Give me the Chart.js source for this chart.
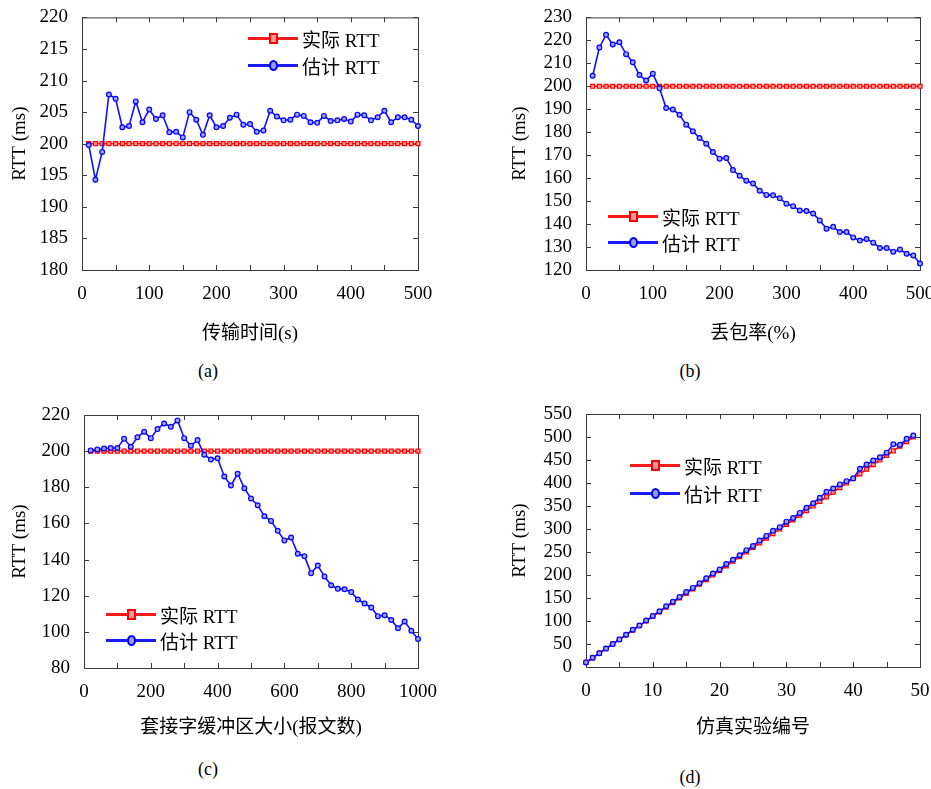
<!DOCTYPE html>
<html>
<head>
<meta charset="utf-8">
<script src="https://cdn.jsdelivr.net/npm/chart.js@4.4.1/dist/chart.umd.min.js"></script>
<style>
  html, body { margin: 0; padding: 0; background: #fff; }
  body {
    width: 931px; height: 789px; position: relative; overflow: hidden;
    font-family: "Liberation Serif", "Noto Sans CJK SC", serif; color: #000;
  }
  canvas { position: absolute; }
  .cap { position: absolute; font-size: 18px; transform: translate(-50%, -50%); }
  .row { position: absolute; height: 20px; display: flex; align-items: center; font-size: 19px; white-space: nowrap; }
  .smp { position: relative; width: 50px; height: 20px; margin-right: 4px; }
  .smp .ln { position: absolute; left: 0; right: 0; top: 8.5px; height: 3px; }
  .smp .mk { position: absolute; left: 21px; top: 5px; width: 5px; height: 7px; border: 2px solid; }
  .red .ln { background: #ff1a1a; }
  .red .mk { border-color: #ff0000; background: #ff9a9a; }
  .blue .ln { background: #1a1aff; }
  .blue .mk { border-color: #0000ff; background: #9a9aff; border-radius: 50%; }
</style>
</head>
<body>
<canvas id="ca"></canvas>
<canvas id="cb"></canvas>
<canvas id="cc"></canvas>
<canvas id="cd"></canvas>

<div class="cap" style="left:208px; top:371px;">(a)</div>
<div class="cap" style="left:690px; top:371px;">(b)</div>
<div class="cap" style="left:208px; top:769px;">(c)</div>
<div class="cap" style="left:690px; top:777px;">(d)</div>

<script>
// legend / series names
const nameActual = '实际 RTT';
const nameEst = '估计 RTT';
const yTitle = 'RTT (ms)';

// (a) 传输时间
const xA = [10,20,30,40,50,60,70,80,90,100,110,120,130,140,150,160,170,180,190,200,210,220,230,240,250,260,270,280,290,300,310,320,330,340,350,360,370,380,390,400,410,420,430,440,450,460,470,480,490,500];
const actualA = [200,200,200,200,200,200,200,200,200,200,200,200,200,200,200,200,200,200,200,200,200,200,200,200,200,200,200,200,200,200,200,200,200,200,200,200,200,200,200,200,200,200,200,200,200,200,200,200,200,200];
const estA = [199.8,194.3,198.7,207.8,207.1,202.6,202.8,206.7,203.4,205.4,203.9,204.5,201.8,201.9,201.0,205.0,203.8,201.4,204.5,202.6,202.8,204.1,204.6,203.0,203.1,201.9,202.1,205.2,204.3,203.7,203.8,204.6,204.4,203.4,203.3,204.4,203.6,203.7,203.9,203.5,204.6,204.5,203.7,204.2,205.2,203.4,204.2,204.2,203.8,202.8];

// (b) 丢包率
const xB = [10,20,30,40,50,60,70,80,90,100,110,120,130,140,150,160,170,180,190,200,210,220,230,240,250,260,270,280,290,300,310,320,330,340,350,360,370,380,390,400,410,420,430,440,450,460,470,480,490,500];
const actualB = [200,200,200,200,200,200,200,200,200,200,200,200,200,200,200,200,200,200,200,200,200,200,200,200,200,200,200,200,200,200,200,200,200,200,200,200,200,200,200,200,200,200,200,200,200,200,200,200,200,200];
const estB = [204.6,216.9,222.4,218.2,219.2,214.0,210.5,204.9,202.5,205.5,199.1,190.5,189.9,187.6,183.3,180.4,177.5,175.0,171.4,168.5,168.8,163.5,161.0,158.9,157.7,154.5,152.7,152.5,151.2,148.9,147.8,145.9,145.7,144.6,141.6,138.0,138.8,136.5,136.5,134.2,132.8,133.5,131.9,129.6,129.6,128.0,128.9,127.1,126.3,122.8];

// (c) 套接字缓冲区大小
const xC = [20,40,60,80,100,120,140,160,180,200,220,240,260,280,300,320,340,360,380,400,420,440,460,480,500,520,540,560,580,600,620,640,660,680,700,720,740,760,780,800,820,840,860,880,900,920,940,960,980,1000];
const actualC = [200,200,200,200,200,200,200,200,200,200,200,200,200,200,200,200,200,200,200,200,200,200,200,200,200,200,200,200,200,200,200,200,200,200,200,200,200,200,200,200,200,200,200,200,200,200,200,200,200,200];
const estC = [200.4,200.9,201.5,201.7,201.7,206.8,202.4,207.7,210.7,207.2,212.2,215.3,213.5,217.0,207.2,203.0,206.1,198.0,195.4,196.1,186.0,181.0,187.5,179.5,173.8,170.1,164.0,161.4,155.9,150.6,152.2,143.2,141.9,132.5,136.7,130.6,125.8,123.8,123.6,122.0,117.9,115.7,113.5,108.7,109.2,106.6,102.0,105.7,100.6,96.1];

// (d) 仿真实验编号
const xD = [0,1,2,3,4,5,6,7,8,9,10,11,12,13,14,15,16,17,18,19,20,21,22,23,24,25,26,27,28,29,30,31,32,33,34,35,36,37,38,39,40,41,42,43,44,45,46,47,48,49];
const actualD = [10,20,30,40,50,60,70,80,90,100,110,120,130,140,150,160,170,180,190,200,210,220,230,240,250,260,270,280,290,300,310,320,330,340,350,360,370,380,390,400,410,420,430,440,450,460,470,480,490,500];
const estD = [10,20,30,40,50,60,70,81,90,101,111,121,132,142,152,163,172,182,193,203,212,224,233,243,254,263,275,285,296,304,316,324,335,346,356,368,381,388,397,404,410,431,440,449,456,466,484,483,496,503];

const tickFont = { family: '"Liberation Serif", "Times New Roman", serif', size: 19 };
const titleFont = { family: '"Liberation Serif", "Noto Sans CJK SC", serif', size: 19 };

// MATLAB-style box with inward ticks on all four sides
const boxTicks = {
  id: 'boxTicks',
  beforeDatasetsDraw(chart) {
    const { ctx, chartArea: a, scales: { x, y } } = chart;
    ctx.save();
    ctx.strokeStyle = '#3a3a3a';
    ctx.lineWidth = 1;
    ctx.strokeRect(a.left + 0.5, a.top + 0.5, a.right - a.left, a.bottom - a.top);
    ctx.beginPath();
    x.ticks.forEach(t => {
      const px = Math.round(x.getPixelForValue(t.value)) + 0.5;
      ctx.moveTo(px, a.bottom); ctx.lineTo(px, a.bottom - 5);
      ctx.moveTo(px, a.top); ctx.lineTo(px, a.top + 5);
    });
    y.ticks.forEach(t => {
      const py = Math.round(y.getPixelForValue(t.value)) + 0.5;
      ctx.moveTo(a.left, py); ctx.lineTo(a.left + 5, py);
      ctx.moveTo(a.right, py); ctx.lineTo(a.right - 5, py);
    });
    ctx.stroke();
    ctx.restore();
  }
};

function makePanel(id, p) {
  const cv = document.getElementById(id);
  cv.width = p.W; cv.height = p.H;
  cv.style.left = p.X + 'px'; cv.style.top = p.Y + 'px';
  cv.style.width = p.W + 'px'; cv.style.height = p.H + 'px';

  const pts = (xs, ys) => xs.map((v, i) => ({ x: v, y: ys[i] }));

  new Chart(cv, {
    type: 'line',
    data: {
      datasets: [
        {
          label: nameEst,
          data: pts(p.xs, p.est),
          borderColor: '#1010ff',
          borderWidth: 1.6,
          pointStyle: 'circle',
          pointRadius: 2.4,
          pointBorderWidth: 1.2,
          pointBorderColor: '#0000ff',
          pointBackgroundColor: '#a0a0ff',
          tension: 0,
          clip: false,
          order: 1
        },
        {
          label: nameActual,
          data: pts(p.xs, p.actual),
          borderColor: '#ff1010',
          borderWidth: 1.8,
          pointStyle: 'rect',
          pointRadius: 2.8,
          pointBorderWidth: 1.2,
          pointBorderColor: '#ff0000',
          pointBackgroundColor: '#ffa0a0',
          tension: 0,
          clip: false,
          order: 2
        }
      ]
    },
    options: {
      responsive: false,
      animation: false,
      events: [],
      layout: { padding: { left: 0, top: p.top, right: p.W - p.right, bottom: 0 } },
      plugins: { legend: { display: false }, tooltip: { enabled: false } },
      scales: {
        x: {
          type: 'linear',
          min: p.xMin, max: p.xMax,
          grid: { display: false },
          border: { display: false },
          ticks: {
            stepSize: p.xStep / 2,
            autoSkip: false,
            maxRotation: 0,
            padding: 5,
            color: '#000',
            font: tickFont,
            callback: v => (v % p.xStep === 0 ? String(v) : '')
          },
          title: {
            display: true, text: p.xTitle, color: '#000', font: titleFont,
            padding: { top: 0, bottom: p.xTitlePad }
          },
          afterFit(s) { s.height = p.H - p.bottom; }
        },
        y: {
          min: p.yMin, max: p.yMax,
          grid: { display: false },
          border: { display: false },
          ticks: { stepSize: p.yStep, autoSkip: false, padding: 6, color: '#000', font: tickFont },
          title: {
            display: true, text: yTitle, color: '#000', font: titleFont,
            padding: { top: 9, bottom: 0 }
          },
          afterFit(s) { s.width = p.left; }
        }
      }
    },
    plugins: [boxTicks]
  });
}

// canvases on the right run past the page edge so the last tick label has room
makePanel('ca', { X: 0, Y: 0, W: 465, H: 350, left: 82, top: 16, right: 418, bottom: 270,
  xs: xA, actual: actualA, est: estA, xMin: 0, xMax: 500, xStep: 100, yMin: 180, yMax: 220, yStep: 5,
  xTitle: '传输时间(s)', xTitlePad: 5 });
makePanel('cb', { X: 500, Y: 0, W: 465, H: 350, left: 86, top: 16, right: 420, bottom: 270,
  xs: xB, actual: actualB, est: estB, xMin: 0, xMax: 500, xStep: 100, yMin: 120, yMax: 230, yStep: 10,
  xTitle: '丢包率(%)', xTitlePad: 5 });
makePanel('cc', { X: 0, Y: 395, W: 465, H: 350, left: 84, top: 20, right: 418, bottom: 273,
  xs: xC, actual: actualC, est: estC, xMin: 0, xMax: 1000, xStep: 200, yMin: 80, yMax: 220, yStep: 20,
  xTitle: '套接字缓冲区大小(报文数)', xTitlePad: 6 });
makePanel('cd', { X: 500, Y: 395, W: 465, H: 350, left: 86, top: 19, right: 420, bottom: 272,
  xs: xD, actual: actualD, est: estD, xMin: 0, xMax: 50, xStep: 10, yMin: 0, yMax: 550, yStep: 50,
  xTitle: '仿真实验编号', xTitlePad: 6 });

// legends drawn as HTML overlays inside each plot
function addLegend(x, yRed, yBlue) {
  [[yRed, 'red', nameActual], [yBlue, 'blue', nameEst]].forEach(([y, cls, txt]) => {
    const row = document.createElement('div');
    row.className = 'row ' + cls;
    row.style.left = x + 'px';
    row.style.top = (y - 10) + 'px';
    row.innerHTML = '<span class="smp"><span class="ln"></span><span class="mk"></span></span><span>' + txt + '</span>';
    document.body.appendChild(row);
  });
}
addLegend(248, 38, 65);
addLegend(608, 216, 242);
addLegend(106, 614, 640);
addLegend(630, 465, 493);
</script>
</body>
</html>
